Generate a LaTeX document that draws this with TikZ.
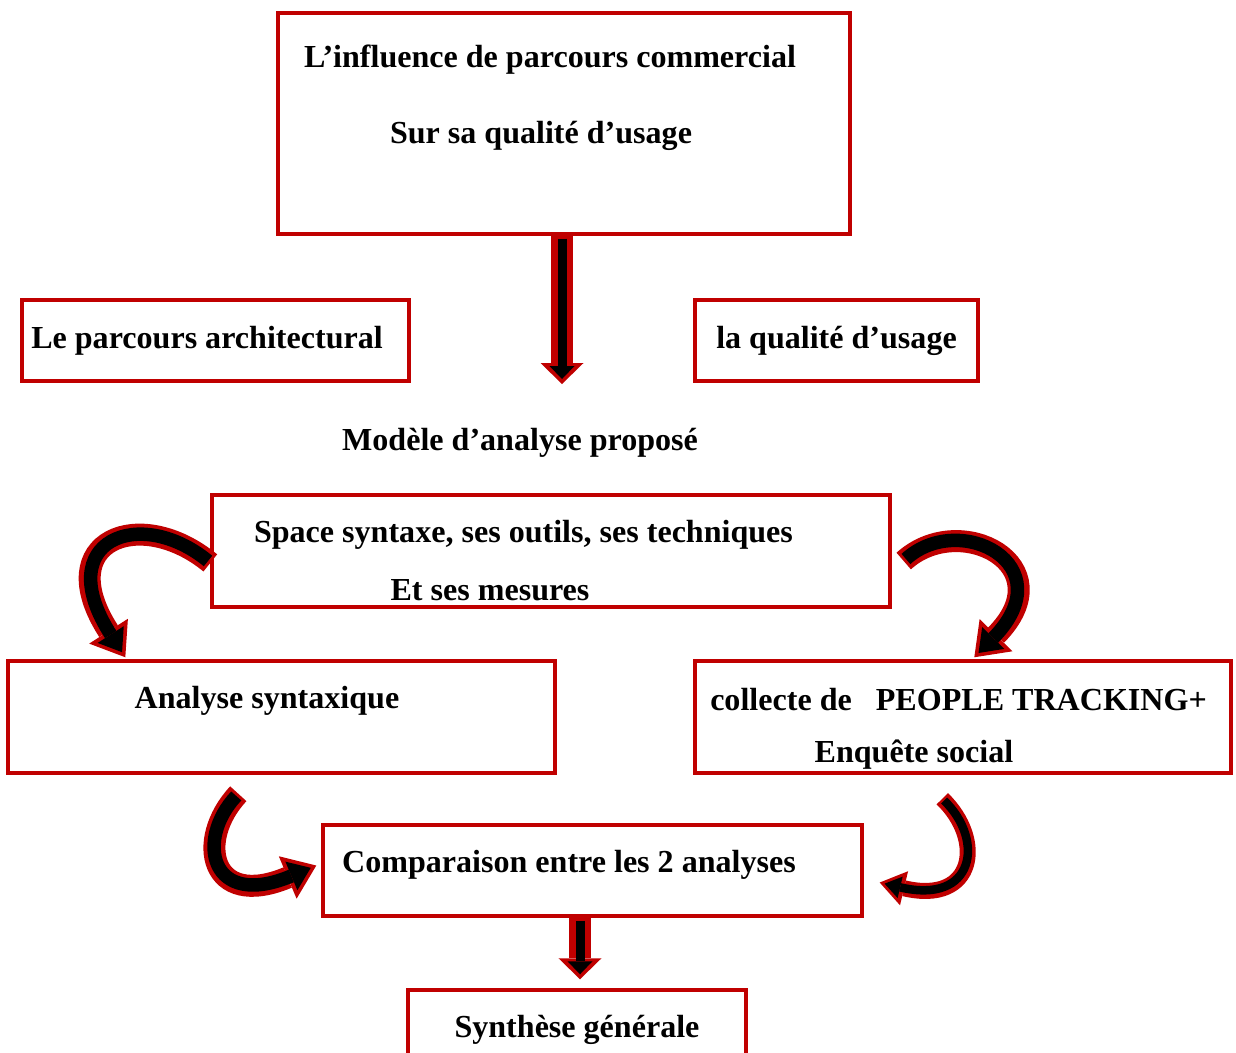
\documentclass[tikz,border=0pt]{standalone}
\usepackage{fontspec}
\setmainfont{Liberation Serif}
\usetikzlibrary{arrows.meta,calc}
\definecolor{frameRed}{HTML}{C00000}
\tikzset{
  box/.style={draw=frameRed, line width=2pt, inner sep=0pt},
  txt/.style={font=\bfseries\fontsize{18.25}{22}\selectfont, inner sep=1pt},
  downarr/.style={preaction={draw=frameRed, line width=0.44cm, shorten >=0pt, shorten <=0pt,
        -{Triangle[length=0.42cm,width=0.86cm,line width=0pt]}},
        draw=black, line width=0.18cm, shorten >=0.1cm, shorten <=0.06cm,
        -{Triangle[length=0.26cm,width=0.5cm,line width=0pt]}},
  curvearr/.style={preaction={draw=frameRed, line width=0.44cm, shorten >=0pt, shorten <=0pt,
        -{Triangle[length=0.62cm,width=0.92cm,line width=0pt]}},
        draw=black, line width=0.27cm, shorten >=0.12cm, shorten <=0.06cm,
        -{Triangle[length=0.42cm,width=0.62cm,line width=0pt]}},
  thincurve/.style={preaction={draw=frameRed, line width=0.32cm, shorten >=0pt, shorten <=0pt,
        -{Triangle[length=0.5cm,width=0.7cm,line width=0pt]}},
        draw=black, line width=0.17cm, shorten >=0.1cm, shorten <=0.05cm,
        -{Triangle[length=0.32cm,width=0.44cm,line width=0pt]}}
}

\begin{document}
\begin{tikzpicture}[x=0.02cm, y=0.02cm]
\fill[white] (0,0) rectangle (1236,-1052);
\useasboundingbox (0,0) rectangle (1236,-1052);

% theme
\node[box, minimum width=11.44cm, minimum height=4.42cm] (top) at (564,-123.5) {};
\node[txt] (topA) at (550,-60)  {L’influence de parcours commercial};
\node[txt] (topB) at (541,-136) {Sur sa qualité d’usage};

% the two notions
\node[box, minimum width=7.74cm, minimum height=1.62cm] (parc) at (215.5,-340.5) {};
\node[txt] (parcA) at (207,-341) {Le parcours architectural};
\node[box, txt, minimum width=5.66cm, minimum height=1.62cm] (qual) at (836.5,-340.5) {la qualité d’usage};
\coordinate (modeleTop) at (562,-384);
\node[txt] (modele) at (520,-443) {Modèle d’analyse proposé};

% method
\node[box, minimum width=13.56cm, minimum height=2.24cm] (space) at (551,-551) {};
\node[txt] (spaceA) at (523.5,-535) {Space syntaxe, ses outils, ses techniques};
\node[txt] (spaceB) at (490,-590)   {Et ses mesures};

% the two analyses
\node[box, minimum width=10.94cm, minimum height=2.24cm] (analyse) at (281.5,-717) {};
\node[txt] (analyseA) at (267,-701) {Analyse syntaxique};
\node[box, minimum width=10.72cm, minimum height=2.24cm] (collecte) at (963,-717) {};
\node[txt] (collecteA) at (958.5,-700) {collecte de \ \ PEOPLE TRACKING+};
\node[txt] (collecteB) at (914,-755)   {Enquête social};

% comparison and synthesis
\node[box, minimum width=10.78cm, minimum height=1.82cm] (comp) at (592.5,-870.5) {};
\node[txt] (compA) at (569,-865) {Comparaison entre les 2 analyses};
\node[box, minimum width=6.76cm, minimum height=2cm] (synth) at (577,-1040) {};
\node[txt] (synthA) at (577,-1030) {Synthèse générale};

% arrows
\draw[downarr] (top.south -| modeleTop) -- (modeleTop);
\draw[downarr] (comp.south -| 580,0) -- ($(synth.north)+(3,9)$);
\draw[curvearr] (space.182) .. controls (140,-505) and (50,-540) .. ($(analyse.north west)+(119,2)$);
\draw[curvearr] ($(space.east)+(12,-10)$) .. controls (960,-510) and (1065,-565) .. ($(collecte.north west)+(281,2)$);
\draw[curvearr] ($(analyse.south west)+(232,-19)$) .. controls (195,-840) and (210,-910) .. ($(comp.west)+(-5,5)$);
\draw[thincurve] ($(collecte.south west)+(249,-24)$) .. controls (985,-840) and (975,-905) .. ($(comp.east)+(16,-12)$);
\end{tikzpicture}
\end{document}
